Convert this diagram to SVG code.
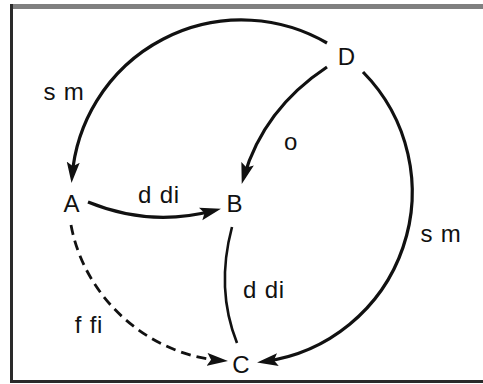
<svg xmlns="http://www.w3.org/2000/svg" width="483" height="384" viewBox="0 0 483 384">
<defs>
<style>
.frame-top{fill:#808080}
.frame{fill:#2a2a2a}
.node text, .lbl{font-family:"Liberation Sans", Arial, Helvetica, sans-serif; font-size:24px; fill:#111; text-anchor:middle}
.lbl{letter-spacing:0.8px}
.edge{fill:none; stroke:#111; stroke-width:3.2}
.thin{stroke-width:2.6}
.dash{stroke-width:2.8; stroke-dasharray:10 6}
</style>
<marker id="arrow" markerUnits="userSpaceOnUse" markerWidth="22" markerHeight="14" refX="14" refY="6.5" orient="auto" viewBox="0 0 22 13">
<path d="M0,0 L21,6.5 L0,13 L4,6.5 Z" fill="#111"/>
</marker>
</defs>
<rect width="483" height="384" fill="#fff"/>
<g id="frame">
<rect class="frame-top" x="10" y="4" width="473" height="5"/>
<rect class="frame" x="10" y="4" width="3" height="379"/>
<rect class="frame" x="10" y="380" width="473" height="3"/>
</g>
<g id="connectors">
<path class="edge" d="M327,43 A170,170 0 0 0 72.1,176.1" marker-end="url(#arrow)"/>
<path class="edge" d="M363,72 A171,171 0 0 1 264,361.5" marker-end="url(#arrow)"/>
<path class="edge" d="M327,67 Q263.5,109 243.7,177.2" marker-end="url(#arrow)"/>
<path class="edge" d="M88,202 Q150,227.5 214.2,210.5" marker-end="url(#arrow)"/>
<path class="edge thin" d="M232,227 Q215.5,289 237,343"/>
<path class="edge dash" d="M71,225 C85,300 150,355 221,360.5" marker-end="url(#arrow)"/>
</g>
<g id="node-D" class="node"><text x="346.5" y="65">D</text></g>
<g id="node-A" class="node"><text x="71.5" y="212">A</text></g>
<g id="node-B" class="node"><text x="234.5" y="212">B</text></g>
<g id="node-C" class="node"><text x="241" y="373">C</text></g>
<g id="labels">
<text class="lbl" x="64" y="100">s m</text>
<text class="lbl" x="291" y="150">o</text>
<text class="lbl" x="159" y="203">d di</text>
<text class="lbl" x="441" y="242">s m</text>
<text class="lbl" x="264" y="298">d di</text>
<text class="lbl" x="89" y="333">f fi</text>
</g>
</svg>
